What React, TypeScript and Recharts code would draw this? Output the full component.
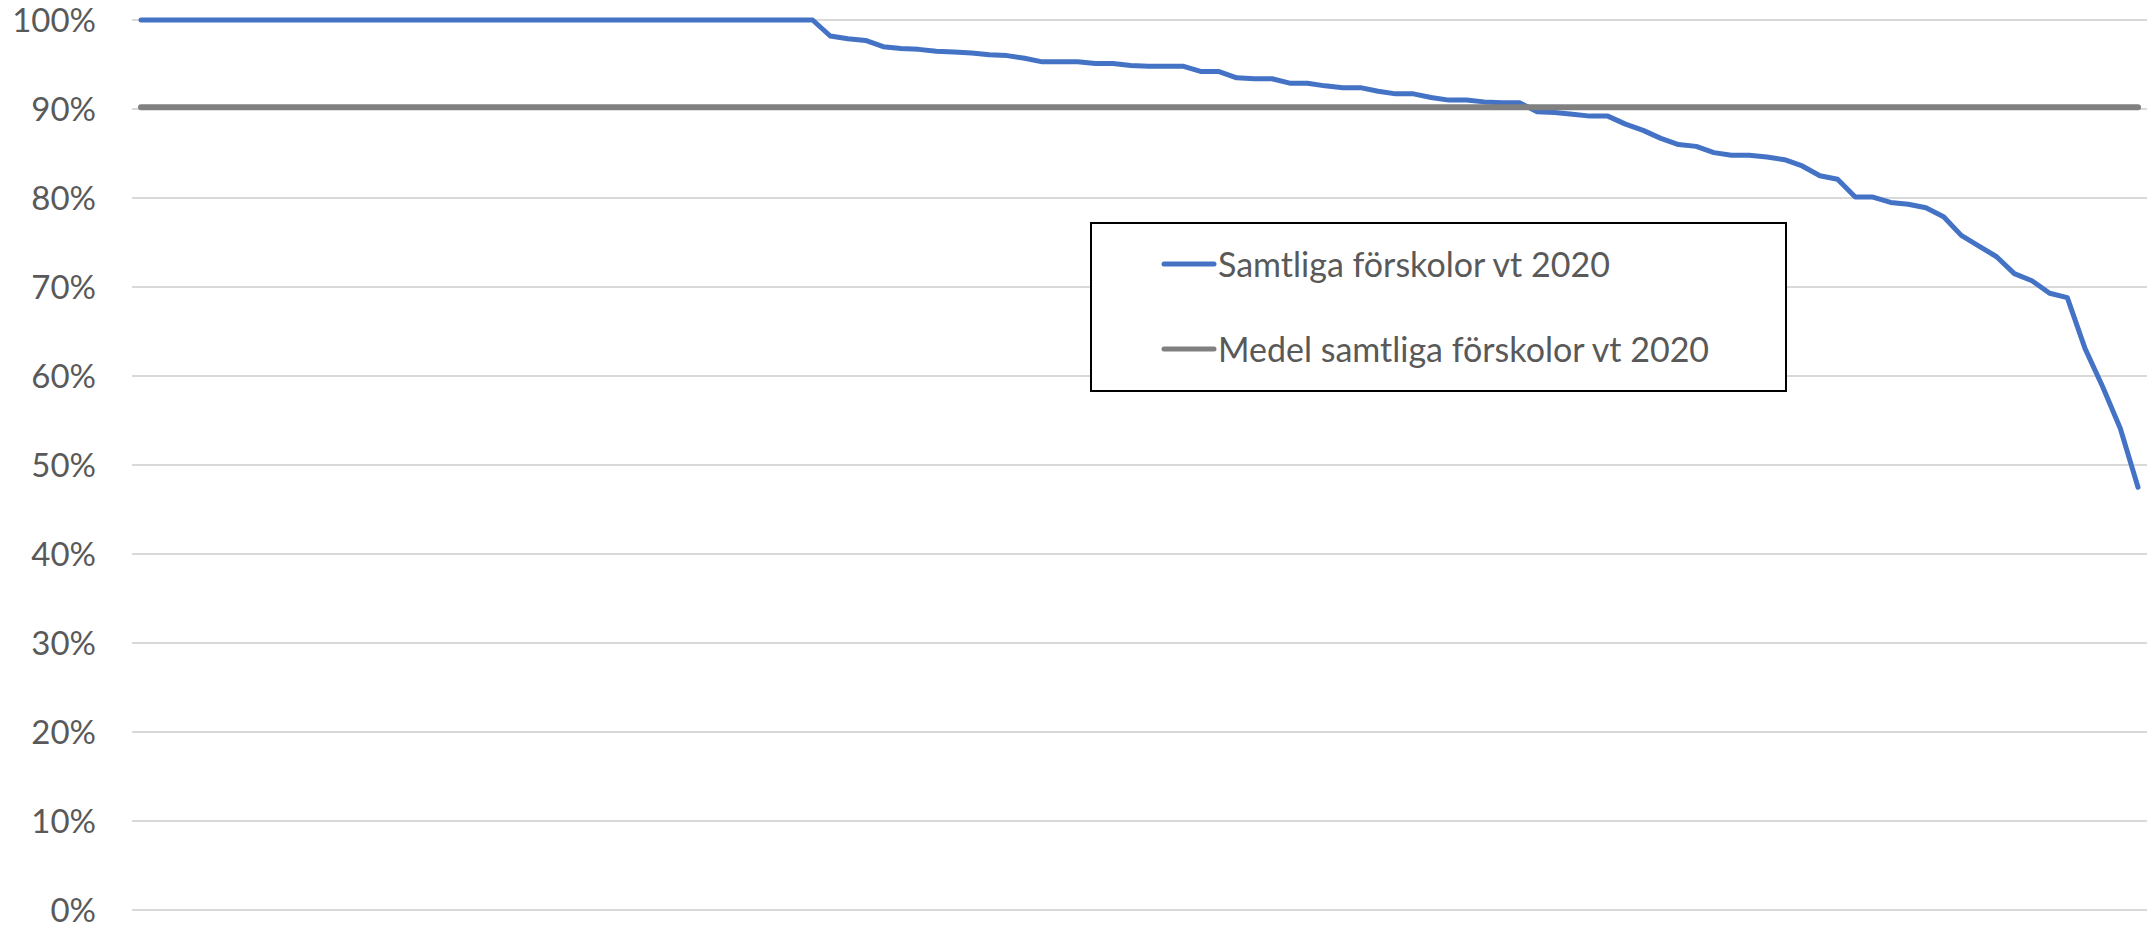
import { LineChart, Line, XAxis, YAxis, CartesianGrid, Legend } from "recharts"

// andel per förskola, sorterat fallande
const coverage = [
  100, 100, 100, 100, 100, 100, 100, 100, 100, 100,
  100, 100, 100, 100, 100, 100, 100, 100, 100, 100,
  100, 100, 100, 100, 100, 100, 100, 100, 100, 100,
  100, 100, 100, 100, 100, 100, 100, 100, 100,
  98.2, 97.9, 97.7, 97.0, 96.8, 96.7, 96.5, 96.4, 96.3, 96.1,
  96.0, 95.7, 95.3, 95.3, 95.3, 95.1, 95.1, 94.9, 94.8, 94.8,
  94.8, 94.2, 94.2, 93.5, 93.4, 93.4, 92.9, 92.9, 92.6, 92.4,
  92.4, 92.0, 91.7, 91.7, 91.3, 91.0, 91.0, 90.8, 90.7, 90.7,
  89.7, 89.6, 89.4, 89.2, 89.2, 88.3, 87.6, 86.7, 86.0, 85.8,
  85.1, 84.8, 84.8, 84.6, 84.3, 83.6, 82.5, 82.1, 80.1, 80.1,
  79.5, 79.3, 78.9, 77.9, 75.8, 74.6, 73.4, 71.5, 70.7, 69.3,
  68.8, 63.1, 58.8, 54.1, 47.5,
]

const meanCoverage = 90.2

const yTicks = [0, 10, 20, 30, 40, 50, 60, 70, 80, 90, 100]

const seriesNames = {
  value: "Samtliga förskolor vt 2020",
  mean: "Medel samtliga förskolor vt 2020",
}
const legendOrder = ["value", "mean"]

const rows = coverage.map((value, i) => ({ school: i + 1, value, mean: meanCoverage }))

const font = "Lato, 'Open Sans', sans-serif"

function LegendBox({ payload }: any) {
  const items = [...(payload || [])].sort(
    (a: any, b: any) => legendOrder.indexOf(a.dataKey) - legendOrder.indexOf(b.dataKey)
  )
  return (
    <div
      style={{
        border: "2px solid #000",
        background: "#fff",
        height: 170,
        boxSizing: "border-box",
        paddingTop: 16,
      }}
    >
      {items.map((item: any) => (
        <div key={item.value} style={{ display: "flex", alignItems: "center", height: 48, marginBottom: 37 }}>
          <svg width={126} height={10} style={{ flex: "none" }}>
            <line x1={72} y1={5} x2={122} y2={5} stroke={item.color} strokeWidth={5} strokeLinecap="round" />
          </svg>
          <span style={{ fontFamily: font, fontSize: 34, color: "#595959", lineHeight: "48px" }}>{item.value}</span>
        </div>
      ))}
    </div>
  )
}

export default function App() {
  return (
    <div style={{ position: "absolute", left: 0, top: 0, fontFamily: font, background: "#fff" }}>
      <LineChart width={2151} height={926} data={rows} margin={{ top: 20, right: 4, left: 0, bottom: 16 }}>
        <CartesianGrid vertical={false} stroke="#d9d9d9" strokeWidth={2} />
        <XAxis dataKey="school" hide padding={{ left: 9, right: 9 }} />
        <YAxis
          width={132}
          domain={[0, 100]}
          ticks={yTicks}
          interval={0}
          tickFormatter={(v) => `${v}%`}
          axisLine={false}
          tickLine={false}
          tickSize={0}
          tickMargin={36}
          tick={{ fill: "#595959", fontSize: 33, fontFamily: font }}
        />
        <Legend
          layout="vertical"
          align="center"
          verticalAlign="middle"
          content={<LegendBox />}
          wrapperStyle={{ left: 1090, top: 222, width: 697 }}
        />
        <Line
          type="linear"
          dataKey="value"
          name={seriesNames.value}
          stroke="#4472C4"
          strokeWidth={5}
          strokeLinecap="round"
          strokeLinejoin="round"
          dot={false}
          isAnimationActive={false}
        />
        <Line
          type="linear"
          dataKey="mean"
          name={seriesNames.mean}
          stroke="#808080"
          strokeWidth={6}
          strokeLinecap="round"
          dot={false}
          isAnimationActive={false}
        />
      </LineChart>
    </div>
  )
}
